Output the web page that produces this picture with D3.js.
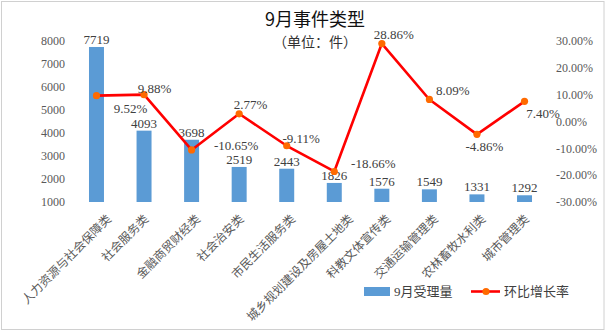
<!DOCTYPE html>
<html>
<head>
<meta charset="utf-8">
<script src="https://cdn.jsdelivr.net/npm/d3@7/dist/d3.min.js"></script>
<style>
  html, body { margin: 0; padding: 0; background: #fff; }
  svg { display: block; }
</style>
</head>
<body>
<svg id="chart" width="606" height="332"></svg>
<script>
// ---- data ----
const categories = ["人力资源与社会保障类", "社会服务类", "金融商贸财经类", "社会治安类", "市民生活服务类",
  "城乡规划建设及房屋土地类", "科教文体宣传类", "交通运输管理类", "农林畜牧水利类", "城市管理类"];
const volumes = [7719, 4093, 3698, 2519, 2443, 1826, 1576, 1549, 1331, 1292];
const growth = [9.52, 9.88, -10.65, 2.77, -9.11, -18.66, 28.86, 8.09, -4.86, 7.40];
const leftTicks = [1000, 2000, 3000, 4000, 5000, 6000, 7000, 8000];
const rightTicks = [-30, -20, -10, 0, 10, 20, 30];
const titleText = "9月事件类型";
const subtitleText = "（单位：件）";
const seriesNames = ["9月受理量", "环比增长率"];

// ---- layout (label offsets relative to each point) ----
const pctLabelOffsets = [[34, 13], [10.5, -6], [44.5, -4.5], [11.5, -9], [14.5, -7],
  [39, -8], [12, -9], [23.5, -9], [7.5, 12.5], [18.5, 12.5]];

const svg = d3.select("#chart");
const serif = "'Liberation Serif', 'Noto Sans CJK SC', serif";
const cjk = "'Liberation Serif', 'Noto Sans CJK SC', sans-serif";

// border
svg.append("rect").attr("x", 1.5).attr("y", 1.5).attr("width", 602.5).attr("height", 328)
  .attr("fill", "#fff").attr("stroke", "#d0d0d0").attr("stroke-width", 1);

const x = d3.scaleBand().domain(categories).range([72.7, 548.3])
  .paddingInner(0.685).paddingOuter(0.3425);
const yL = d3.scaleLinear().domain([1000, 8000]).range([202, 40.5]);
const yR = d3.scaleLinear().domain([-30, 30]).range([202, 40.5]);
const cx = c => x(c) + x.bandwidth() / 2;

// axes
const axL = svg.append("g").attr("transform", "translate(68,0)")
  .call(d3.axisLeft(yL).tickValues(leftTicks).tickSize(0).tickPadding(3).tickFormat(d => String(d)));
axL.select(".domain").remove();
axL.selectAll("text").attr("font-family", serif).attr("font-size", 12).attr("fill", "#595959");

const axR = svg.append("g").attr("transform", "translate(553,0)")
  .call(d3.axisRight(yR).tickValues(rightTicks).tickSize(0).tickPadding(3).tickFormat(d => d.toFixed(2) + "%"));
axR.select(".domain").remove();
axR.selectAll("text").attr("font-family", serif).attr("font-size", 12).attr("fill", "#595959");

// bars
svg.append("g").selectAll("rect").data(volumes).join("rect")
  .attr("x", (d, i) => x(categories[i]))
  .attr("width", x.bandwidth())
  .attr("y", d => yL(d))
  .attr("height", d => yL(1000) - yL(d))
  .attr("fill", "#5b9bd5");

// bar value labels
svg.append("g").selectAll("text").data(volumes).join("text")
  .attr("x", (d, i) => cx(categories[i]))
  .attr("y", d => yL(d) - 7.5)
  .attr("text-anchor", "middle").attr("dominant-baseline", "central")
  .attr("font-family", serif).attr("font-size", 13).attr("fill", "#404040")
  .text(d => d);

// line
const line = d3.line().x((d, i) => cx(categories[i])).y(d => yR(d));
svg.append("path").datum(growth).attr("d", line)
  .attr("fill", "none").attr("stroke", "#ff0000").attr("stroke-width", 2.6)
  .attr("stroke-linejoin", "round");
svg.append("g").selectAll("circle").data(growth).join("circle")
  .attr("cx", (d, i) => cx(categories[i])).attr("cy", d => yR(d)).attr("r", 3.6)
  .attr("fill", "#ff6a00");

// pct labels
svg.append("g").selectAll("text").data(growth).join("text")
  .attr("x", (d, i) => cx(categories[i]) + pctLabelOffsets[i][0])
  .attr("y", (d, i) => yR(d) + pctLabelOffsets[i][1])
  .attr("text-anchor", "middle").attr("dominant-baseline", "central")
  .attr("font-family", serif).attr("font-size", 13).attr("fill", "#404040")
  .text(d => d.toFixed(2) + "%");

// category labels
svg.append("g").selectAll("text").data(categories).join("text")
  .attr("transform", d => {
    const ax = cx(d) + 6.5 + (d.length - 7) * 2.05;
    return `translate(${ax},217) rotate(-45)`;
  })
  .attr("text-anchor", "end").attr("dominant-baseline", "central")
  .attr("font-family", cjk).attr("font-size", 12).attr("fill", "#595959")
  .text(d => d);

// title
svg.append("text").attr("x", 315).attr("y", 17.5).attr("text-anchor", "middle")
  .attr("dominant-baseline", "central")
  .attr("font-family", "'Noto Sans CJK SC', sans-serif").attr("font-size", 18).attr("fill", "#111")
  .text(titleText);
svg.append("text").attr("x", 315).attr("y", 41).attr("text-anchor", "middle")
  .attr("dominant-baseline", "central")
  .attr("font-family", "'Noto Sans CJK SC', sans-serif").attr("font-size", 14).attr("fill", "#333")
  .text(subtitleText);

// legend
const lg = svg.append("g");
lg.append("rect").attr("x", 364).attr("y", 287).attr("width", 26).attr("height", 9).attr("fill", "#5b9bd5");
lg.append("text").attr("x", 394).attr("y", 291.5).attr("dominant-baseline", "central")
  .attr("font-family", cjk).attr("font-size", 13).attr("fill", "#404040").text(seriesNames[0]);
lg.append("line").attr("x1", 471).attr("x2", 500).attr("y1", 291.5).attr("y2", 291.5)
  .attr("stroke", "#ff0000").attr("stroke-width", 2.6);
lg.append("circle").attr("cx", 486).attr("cy", 291.5).attr("r", 3.6).attr("fill", "#ff6a00");
lg.append("text").attr("x", 504).attr("y", 291.5).attr("dominant-baseline", "central")
  .attr("font-family", cjk).attr("font-size", 13).attr("fill", "#404040").text(seriesNames[1]);
</script>
</body>
</html>
